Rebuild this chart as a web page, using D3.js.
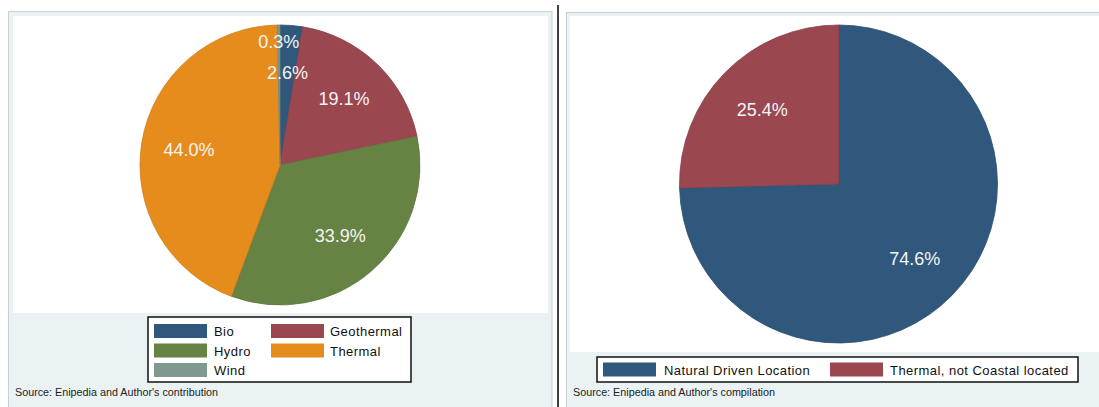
<!DOCTYPE html>
<html>
<head>
<meta charset="utf-8">
<script src="https://cdn.jsdelivr.net/npm/d3@7"></script>
<style>
  body { margin: 0; background: #fff; }
  svg { display: block; font-family: "Liberation Sans", Arial, sans-serif; }
</style>
</head>
<body>
<div id="chart"></div>
<script>
// left chart: capacity by source
const sources = ["Bio", "Geothermal", "Hydro", "Thermal", "Wind"];
const sourceShares = [2.6, 19.1, 33.9, 44.0, 0.3];
const sourceColors = ["#30587c", "#9a4750", "#678344", "#e68c1d", "#7f998f"];

// right chart: location type
const locations = ["Natural Driven Location", "Thermal, not Coastal located"];
const locationShares = [74.6, 25.4];
const locationColors = ["#30587c", "#9a4750"];

const sourceNotes = [
    "Source:  Enipedia and Author's contribution",
    "Source:  Enipedia and Author's compilation"
];

const W = 1099, H = 407;

const svg = d3.select("#chart")
    .append("svg")
    .attr("width", W)
    .attr("height", H);

// panel backgrounds, stata style
function panel(x, y, w, h, px, py, pw, ph) {
    svg.append("rect")
        .attr("x", x).attr("y", y)
        .attr("width", w).attr("height", h)
        .attr("fill", "#eaf2f3")
        .attr("stroke", "#c9d0d3")
        .attr("stroke-width", 1);
    svg.append("rect")
        .attr("x", px).attr("y", py)
        .attr("width", pw).attr("height", ph)
        .attr("fill", "#ffffff");
}
panel(8.5, 11.5, 543.5, 400, 13, 16, 535, 297);
panel(566.5, 12.5, 540, 400, 570, 16, 535, 336);

// divider between the two figures
svg.append("line")
    .attr("x1", 558).attr("x2", 558)
    .attr("y1", 5).attr("y2", H)
    .attr("stroke", "#000")
    .attr("stroke-width", 1.5);

function drawPie(cx, cy, r, labels, values, colors, labelScale) {
    const pie = d3.pie().sort(null).value(d => d);
    const arcs = pie(values);
    const arc = d3.arc().innerRadius(0).outerRadius(r);
    const g = svg.append("g").attr("transform", `translate(${cx},${cy})`);

    g.selectAll("path")
        .data(arcs)
        .enter()
        .append("path")
        .attr("d", arc)
        .attr("fill", (d, i) => colors[i])
        .attr("stroke", (d, i) => d3.color(colors[i]).darker(0.3))
        .attr("stroke-width", 0.8);

    g.selectAll("text")
        .data(arcs)
        .enter()
        .append("text")
        .attr("transform", (d, i) => {
            const k = labelScale[i] * r;
            const a = (d.startAngle + d.endAngle) / 2;
            return `translate(${k * Math.sin(a)},${-k * Math.cos(a)})`;
        })
        .attr("text-anchor", "middle")
        .attr("dy", "0.36em")
        .attr("fill", "#f4f4f4")
        .style("font-size", "18px")
        .text(d => d.value.toFixed(1) + "%");
}

// the tiny wind slice has its label pushed out towards the rim
drawPie(280, 165, 140, sources, sourceShares, sourceColors, [0.66, 0.66, 0.66, 0.66, 0.88]);
drawPie(838.5, 184, 159, locations, locationShares, locationColors, [0.67, 0.67]);

// legends
function legend(bx, by, bw, bh, items, colors, cols, colX, textX, rowY) {
    svg.append("rect")
        .attr("x", bx).attr("y", by)
        .attr("width", bw).attr("height", bh)
        .attr("fill", "#fff")
        .attr("stroke", "#111")
        .attr("stroke-width", 1.5);

    const g = svg.append("g");
    const item = g.selectAll("g")
        .data(items)
        .enter()
        .append("g")
        .attr("transform", (d, i) => `translate(${colX[i % cols]},${rowY[Math.floor(i / cols)]})`);

    item.append("rect")
        .attr("width", 53)
        .attr("height", 14)
        .attr("fill", (d, i) => colors[i]);

    item.append("text")
        .attr("x", (d, i) => textX[i % cols] - colX[i % cols])
        .attr("y", 12)
        .attr("fill", "#111")
        .style("font-size", "13px")
        .style("letter-spacing", "0.45px")
        .text(d => d);
}
legend(148, 317, 263, 65, sources, sourceColors, 2, [154, 271], [214, 330], [324, 343.5, 363]);
legend(597, 357, 481, 25, locations, locationColors, 2, [603, 830], [664, 890], [362.5]);

// source notes
svg.selectAll(".note")
    .data(sourceNotes)
    .enter()
    .append("text")
    .attr("class", "note")
    .attr("x", (d, i) => i === 0 ? 15 : 573)
    .attr("y", 396)
    .attr("fill", "#222")
    .attr("textLength", (d, i) => i === 0 ? 203 : 202)
    .attr("lengthAdjust", "spacingAndGlyphs")
    .style("font-size", "10.5px")
    .text(d => d);
</script>
</body>
</html>
